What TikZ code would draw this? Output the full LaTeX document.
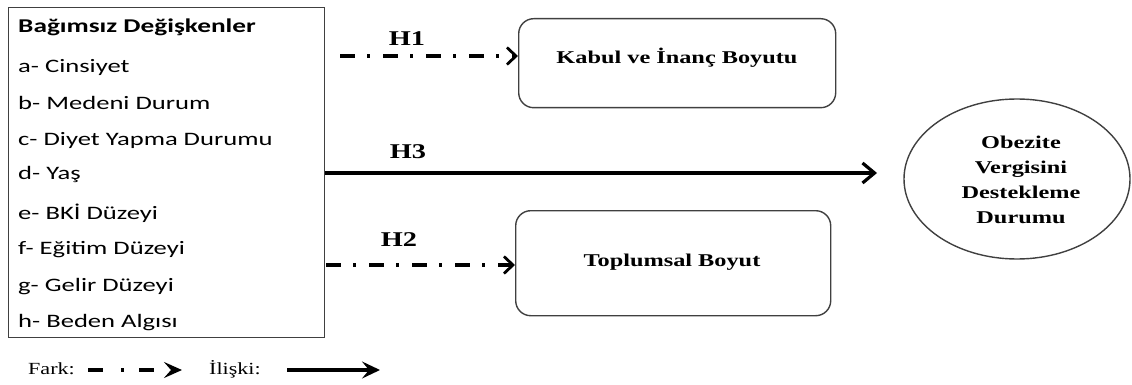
\documentclass[tikz,border=0pt]{standalone}
\usepackage{fontspec}
\setmainfont{Liberation Serif}
\newfontfamily\calib[FakeStretch=1.4]{Carlito}
\newfontfamily\tnr[FakeStretch=1.35]{Liberation Serif}
\newfontfamily\tnrleg[FakeStretch=1.3]{Liberation Serif}
\usetikzlibrary{arrows.meta,shapes.geometric}
\definecolor{edge}{gray}{0.25}
\tikzset{
  varlbl/.style={anchor=west,inner sep=0pt,font=\calib\fontsize{19}{22}\selectfont},
  rbox/.style={draw=edge,line width=1.4pt,rounded corners=15pt,inner sep=0pt},
  boxtxt/.style={inner sep=0pt,font=\tnr\bfseries\fontsize{18}{21}\selectfont},
  hlbl/.style={inner sep=0pt,font=\tnr\bfseries\fontsize{21}{24}\selectfont},
  leglbl/.style={anchor=west,inner sep=0pt,font=\tnrleg\fontsize{17}{20}\selectfont},
  farkline/.style={line width=3.4pt,dash pattern=on 15pt off 12pt on 3pt off 13pt,-{Straight Barb[length=9pt,width=17pt,line width=2.8pt]}},
  iliskiline/.style={line width=3.6pt,-{Straight Barb[length=12pt,width=20pt,line width=3.2pt]}},
  legfark/.style={line width=3.4pt,dash pattern=on 15pt off 18pt on 3pt off 15pt,-{Stealth[length=18pt,width=16pt,inset=7pt]}},
  legiliski/.style={line width=3.4pt,-{Stealth[length=18pt,width=17pt,inset=7pt]}},
}
\begin{document}
\begin{tikzpicture}[x=1pt,y=-1pt]
\useasboundingbox (0,0) rectangle (1132,385);
% left box
\node[draw=edge,line width=1.4pt,minimum width=316pt,minimum height=330pt,anchor=north west,inner sep=0pt] (vars) at (8,7) {};
\node[varlbl,font=\calib\bfseries\fontsize{19.5}{22}\selectfont] (t0) at (18,27) {Bağımsız Değişkenler};
\node[varlbl] (va) at (18,67) {a- Cinsiyet};
\node[varlbl] (vb) at (18,103) {b- Medeni Durum};
\node[varlbl] (vc) at (18,140) {c- Diyet Yapma Durumu};
\node[varlbl] (vd) at (18,174) {d- Yaş};
\node[varlbl] (ve) at (18,213) {e- BKİ Düzeyi};
\node[varlbl] (vf) at (18,250) {f- Eğitim Düzeyi};
\node[varlbl] (vg) at (18,287) {g- Gelir Düzeyi};
\node[varlbl] (vh) at (18,323) {h- Beden Algısı};
% boxes
\node[rbox,minimum width=317pt,minimum height=89pt,anchor=north west] (kabul) at (518,18) {};
\node[boxtxt] (kabult) at (677,58) {Kabul ve İnanç Boyutu};
\node[rbox,minimum width=315pt,minimum height=105pt,anchor=north west] (topl) at (515,210) {};
\node[boxtxt] (toplt) at (672,262) {Toplumsal Boyut};
% ellipse
\node[draw=edge,line width=1.4pt,ellipse,minimum width=226pt,minimum height=160pt,inner sep=0pt] (obez) at (1017,179) {};
\node[inner sep=0pt,align=center,font=\tnr\bfseries\fontsize{18}{25}\selectfont] (obezt) at (1021,180) {Obezite\\Vergisini\\Destekleme\\Durumu};
% arrows
\coordinate (h1s) at (340,56);
\coordinate (h2s) at (326,265);
\coordinate (h3e) at (877,173);
\draw[farkline] (h1s) -- (kabul.west |- h1s);
\draw[farkline] (h2s) -- (topl.west |- h2s);
\draw[iliskiline] (vars.east |- h3e) -- (h3e);
\node[hlbl] (h1) at (407,39) {H1};
\node[hlbl] (h2) at (399,240) {H2};
\node[hlbl] (h3) at (408,152) {H3};
% legend
\node[leglbl] (fark) at (28,369) {Fark:};
\coordinate (fs) at (88,370);
\coordinate (fe) at (182,370);
\draw[legfark] (fs) -- (fe);
\node[leglbl] (iliski) at (209,369) {İlişki:};
\coordinate (is) at (287,370);
\coordinate (ie) at (380,370);
\draw[legiliski] (is) -- (ie);
\end{tikzpicture}
\end{document}
